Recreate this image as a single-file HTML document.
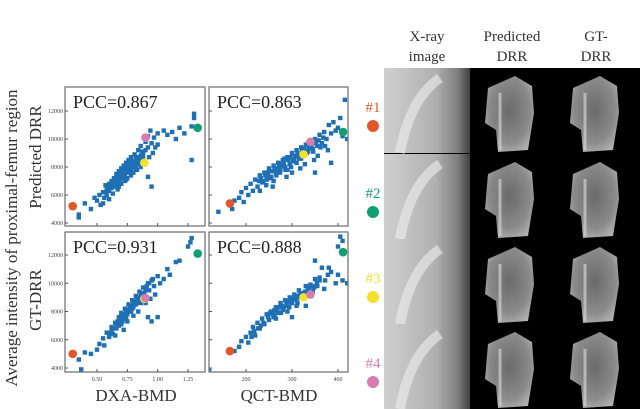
<!DOCTYPE html>
<html><head><meta charset="utf-8"><style>
html,body{margin:0;padding:0;background:#fff;}
svg{display:block;font-family:"Liberation Serif",serif;}
</style></head><body>
<svg id="fig" width="640" height="409" viewBox="0 0 640 409" xmlns="http://www.w3.org/2000/svg">
<defs>
<radialGradient id="bone" cx="0.5" cy="0.45" r="0.6"><stop offset="0" stop-color="#6a6a6a"/><stop offset="0.7" stop-color="#8a8a8a"/><stop offset="1" stop-color="#b0b0b0"/></radialGradient>
<linearGradient id="xr" x1="0" x2="1" y1="0" y2="0"><stop offset="0" stop-color="#d0d0d0"/><stop offset="0.6" stop-color="#b0b0b0"/><stop offset="0.85" stop-color="#808080"/><stop offset="1" stop-color="#404040"/></linearGradient>
</defs>
<g id="charts"></g>
<text transform="translate(17,238) rotate(-90)" text-anchor="middle" font-size="17" fill="#333">Average intensity of proximal-femur region</text>
<text transform="translate(41,157) rotate(-90)" text-anchor="middle" font-size="17" fill="#333">Predicted DRR</text>
<text transform="translate(41,300) rotate(-90)" text-anchor="middle" font-size="17" fill="#333">GT-DRR</text>
<text x="136" y="401" text-anchor="middle" font-size="17" fill="#333">DXA-BMD</text>
<text x="279" y="401" text-anchor="middle" font-size="17" fill="#333">QCT-BMD</text>

<g>
<text x="427" y="41" text-anchor="middle" font-size="15" fill="#333">X-ray</text>
<text x="427" y="61" text-anchor="middle" font-size="15" fill="#333">image</text>
<text x="512" y="41" text-anchor="middle" font-size="15" fill="#333">Predicted</text>
<text x="512" y="61" text-anchor="middle" font-size="15" fill="#333">DRR</text>
<text x="596" y="41" text-anchor="middle" font-size="15" fill="#333">GT-</text>
<text x="596" y="61" text-anchor="middle" font-size="15" fill="#333">DRR</text>
<rect x="384" y="68" width="256" height="341" fill="#000"/>
<g id="imgs"></g>
</g>
</svg>
<script>
const NS="http://www.w3.org/2000/svg";
function mk(t,a,p){const e=document.createElementNS(NS,t);for(const k in a)e.setAttribute(k,a[k]);p.appendChild(e);return e;}

// ---- data ----
const dxaTicks=[0.50,0.75,1.00,1.25];
const qctTicks=[200,300,400];
const yTicks=[4000,6000,8000,10000,12000];
const pccLabels=["PCC=0.867","PCC=0.863","PCC=0.931","PCC=0.888"];
const hlColors=["#e0582a","#109e72","#f2e12e","#d77db0"];
const dxaPredX=[0.35,0.35,0.40,0.45,0.48,0.50,0.52,0.53,0.55,0.56,0.58,0.58,0.60,0.60,0.62,0.62,0.63,0.64,0.65,0.66,0.66,0.67,0.68,0.68,0.70,0.70,0.70,0.72,0.72,0.73,0.74,0.75,0.75,0.76,0.77,0.78,0.78,0.80,0.80,0.81,0.82,0.83,0.84,0.85,0.86,0.86,0.88,0.88,0.90,0.90,0.92,0.92,0.93,0.94,0.95,0.96,0.97,0.98,1.00,1.00,1.05,1.08,1.12,1.15,1.18,1.22,1.28,1.30,1.30,1.28,0.92,0.95,0.55,0.60,0.71,0.74,0.77,0.79,0.69,0.66,
0.61,0.63,0.64,0.65,0.67,0.67,0.69,0.69,0.71,0.71,0.72,0.73,0.74,0.75,0.76,0.77,0.78,0.79,0.80,0.81,0.82,0.83,0.84,0.85,0.86,0.87,0.88,0.64,0.70,0.76,0.58,0.57,0.68,0.74,0.79,0.82];
const dxaPredY=[4600,4400,5400,5000,5800,5600,6000,5300,6200,5800,6500,6000,6800,6300,7000,6500,6100,7200,6700,7500,6900,6400,7700,7100,7900,7300,6800,8100,7500,7000,8300,7700,7200,8500,7900,7400,8700,8100,7600,8900,8300,7800,9200,8600,8000,9500,9000,8400,9800,9200,10200,9400,8700,10600,9700,9000,10100,9400,10400,9600,10600,10300,10500,10000,10800,10400,10900,11800,11500,8500,7300,6600,5400,5700,7600,8000,8200,8400,7300,7000,
6600,6900,6600,7000,7200,6800,7400,7000,7600,7200,7800,7400,7900,8000,7600,8200,7800,8300,8400,8000,8600,8200,8700,8300,8800,9100,8700,6900,7600,8100,6300,6700,6600,7100,7600,7900];
const qctPredX=[140,170,175,185,190,195,200,205,210,215,220,225,230,235,240,245,250,255,258,260,265,270,275,280,285,288,290,295,300,305,310,315,318,320,325,330,335,340,345,348,350,355,360,365,370,375,378,380,385,390,395,400,405,410,420,430,440,450,460,415,385,350,230,300,260,270,280,310,320,290,
232,238,242,248,252,256,262,266,272,276,282,286,292,296,302,306,312,316,322,326,332,336,342,346,352,358,362,368,228,244,268,298,328,356,372,284,274,246];
const qctPredY=[4800,5000,5600,5800,6200,5500,6500,6000,6800,6300,7100,6600,7400,6900,7600,7100,7900,7300,6600,8100,7600,8300,7800,8500,8000,7300,8700,8200,9000,8500,9200,8700,7900,9400,8900,9600,9100,9800,9300,8500,10000,9500,10300,9700,10500,10000,9200,11000,10400,11200,10600,10800,11500,10200,10000,9600,10300,10700,10500,12800,8300,7600,6300,7600,7000,7900,8100,8300,8600,7800,
7200,7000,7400,7600,7200,7700,7900,7400,8000,8200,8300,7800,8500,8700,8400,8800,9000,8600,9100,9300,9000,9400,9600,9100,9700,9900,9400,10100,7000,6700,7700,8000,8200,8800,9500,8600,7600,7300];
const dxaGtX=[0.37,0.35,0.40,0.45,0.50,0.52,0.55,0.56,0.58,0.60,0.62,0.63,0.65,0.66,0.68,0.69,0.70,0.72,0.73,0.74,0.75,0.76,0.78,0.79,0.80,0.82,0.83,0.84,0.85,0.86,0.88,0.89,0.90,0.92,0.93,0.94,0.96,0.97,0.98,1.00,1.02,1.05,1.08,1.10,1.15,1.18,1.25,1.27,1.28,0.92,1.00,0.95,0.72,0.80,0.65,0.71,0.77,0.83,0.87,
0.60,0.62,0.64,0.66,0.67,0.69,0.70,0.71,0.72,0.73,0.74,0.75,0.76,0.77,0.78,0.79,0.80,0.81,0.82,0.83,0.84,0.85,0.86,0.87,0.88,0.90,0.91,0.93,0.95,0.68,0.74,0.70,0.78,0.86];
const dxaGtY=[3900,4600,5100,5000,5300,5700,6100,5600,6500,6200,6900,6400,7200,6800,7600,7100,7900,7500,8200,7800,7300,8500,8100,8800,8300,9100,8600,8000,9400,8900,9700,9200,8600,10000,9500,8900,10300,9800,9200,10500,10000,10300,11000,10600,11500,11600,12600,12900,13200,7600,7600,7300,6700,7700,6300,7700,8000,8800,9000,
6500,6600,6800,7100,7300,7400,7600,7300,7800,7700,8000,7800,8100,8300,8400,8200,8600,8700,8500,8900,9000,8700,9200,9300,9000,9500,9800,10000,10200,7000,7500,7100,8000,8600];
const qctGtX=[120,175,185,190,200,205,210,215,220,225,230,235,240,245,250,255,260,265,270,275,280,285,290,295,300,305,310,315,320,330,340,345,350,355,360,370,380,385,395,400,405,410,400,410,420,430,450,470,350,365,300,265,330,280,310,290,
248,252,258,262,268,272,278,282,288,292,298,302,308,312,318,322,328,334,338,344,348,354,262,276,294,312,326,342,238,232,226,218,212,360,372,378];
const qctGtY=[3800,5200,5500,5900,6200,5800,6500,6900,6300,7200,6800,7500,7100,7800,7400,8000,7600,8300,7900,8600,8100,8800,8400,9000,8600,9200,8800,9500,9000,9800,9900,9400,10300,9800,10200,9600,11100,10800,10000,10600,13300,13000,12600,10200,10000,10300,10600,10800,11600,11100,7600,7500,8400,8300,8400,8000,
7600,7900,7800,8100,8000,8300,8400,8300,8600,8700,8800,8900,9000,9100,9200,9300,9400,9500,9700,9800,9700,10000,7700,7900,8300,8600,8900,9100,7200,7000,6800,6600,6200,10400,10200,10600];
const dxaHlX=[0.30,1.33,0.89,0.90];
const dxaPredHlY=[5200,10800,8300,10100];
const dxaGtHlY=[5000,12100,8900,8950];
const qctHlX=[165,411,325,340];
const qctPredHlY=[5400,10500,8900,9800];
const qctGtHlY=[5200,12200,9000,9200];

// axes
function lin(d0,d1,r0,r1){return v=>r0+(v-d0)*(r1-r0)/(d1-d0);}
const cols=[{l:65,r:205,x:lin(0.5,1.25,97,188),ticks:dxaTicks,fmt:v=>v.toFixed(2)},
            {l:209,r:348,x:lin(200,400,246,338),ticks:qctTicks,fmt:v=>String(v)}];
const rows=[{t:87,b:226,y:lin(4000,12000,223,111)},{t:232,b:372,y:lin(4000,12000,368,255)}];
const panels=[
 {c:0,r:0,xs:dxaPredX,ys:dxaPredY,hx:dxaHlX,hy:dxaPredHlY,name:"dxa-predicted"},
 {c:1,r:0,xs:qctPredX,ys:qctPredY,hx:qctHlX,hy:qctPredHlY,name:"qct-predicted"},
 {c:0,r:1,xs:dxaGtX,ys:dxaGtY,hx:dxaHlX,hy:dxaGtHlY,name:"dxa-gt"},
 {c:1,r:1,xs:qctGtX,ys:qctGtY,hx:qctHlX,hy:qctGtHlY,name:"qct-gt"}];
const root=document.getElementById('charts');
panels.forEach((p,i)=>{
 const C=cols[p.c],R=rows[p.r];
 const g=mk('g',{},root);
 
 
 const cid='clip'+i;
 const cp=mk('clipPath',{id:cid},g);mk('rect',{x:C.l,y:R.t,width:C.r-C.l,height:R.b-R.t},cp);
 const pts=mk('g',{'clip-path':'url(#'+cid+')'},g);
 p.xs.forEach((xv,j)=>{
  const m=mk('rect',{x:C.x(xv)-2.2,y:R.y(p.ys[j])-2.2,width:4.4,height:4.4,fill:'#1f6fb4'},pts);
  
  
 });
 p.hx.forEach((xv,j)=>{
  const h=mk('circle',{cx:C.x(xv),cy:R.y(p.hy[j]),r:4.3,fill:hlColors[j]},pts);
  
  
 });
 const fr=mk('rect',{x:C.l,y:R.t,width:C.r-C.l,height:R.b-R.t,fill:'none',stroke:'#777','stroke-width':1.3},g);
 
 
 yTicks.forEach(t=>{const y=R.y(t);if(y<R.t||y>R.b)return;
  mk('line',{x1:C.l,x2:C.l+3,y1:y,y2:y,stroke:'#555'},g);
  if(p.c===0){const tl=mk('text',{x:C.l-2,y:y+2,'text-anchor':'end','font-size':6,fill:'#444'},g);tl.textContent=t;
   
   }});
 C.ticks.forEach(t=>{const x=C.x(t);
  mk('line',{x1:x,x2:x,y1:R.b,y2:R.b-3,stroke:'#555'},g);
  if(p.r===1){const tl=mk('text',{x:x,y:R.b+9,'text-anchor':'middle','font-size':6,fill:'#444'},g);tl.textContent=C.fmt(t);
   
   }});
 const pl=mk('text',{x:C.l+8,y:R.t+21,'font-size':18,fill:'#222'},g);pl.textContent=pccLabels[i];
 
 
});

// image grid
const imgs=document.getElementById('imgs');
const rowTop=[68,154,239,324];
const rowLbl=["#1","#2","#3","#4"];
rowTop.forEach((t,i)=>{
 const x=mk('rect',{x:384,y:t,width:86,height:85,fill:'url(#xr)'},imgs);
 
 
 mk('path',{d:`M${400} ${t+85} Q${410} ${t+30} ${440} ${t+10}`,stroke:'#eee','stroke-width':10,fill:'none',opacity:0.6},imgs);
 [470,555].forEach((cx,k)=>{
  const d=`M${cx+18} ${t+20} L${cx+45} ${t+8} L${cx+62} ${t+18} L${cx+64} ${t+45} L${cx+58} ${t+82} L${cx+28} ${t+84} L${cx+26} ${t+62} L${cx+15} ${t+55} Z`;
  const b=mk('path',{d:d,fill:'url(#bone)'},imgs);
  
  
  mk('line',{x1:cx+30,y1:t+82,x2:cx+30,y2:t+25,stroke:'#d0d0d0','stroke-width':3,opacity:0.7},imgs);
 });
 const lt=mk('text',{x:373,y:t+44,'text-anchor':'middle','font-size':15,fill:hlColors[i]},imgs);lt.textContent=rowLbl[i];
 
 
 const dc=mk('circle',{cx:373,cy:t+58,r:6,fill:hlColors[i]},imgs);
 
 
});
</script>
</body></html>
